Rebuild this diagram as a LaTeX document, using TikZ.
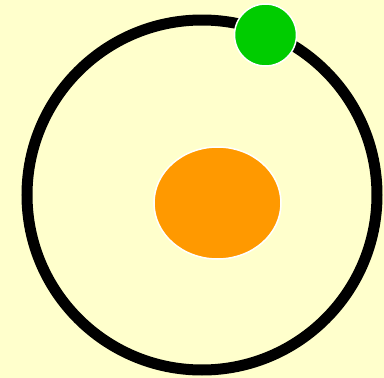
\documentclass[tikz,border=0pt]{standalone}
\usepackage{xcolor}
\usepackage{tikz}
\usetikzlibrary{shapes.geometric}
\definecolor{bgyellow}{HTML}{FFFFCC}
\definecolor{planetgreen}{HTML}{00CC00}
\definecolor{sunorange}{HTML}{FF9900}

\begin{document}
\begin{tikzpicture}[
   x=1pt, y=-1pt,
   orbit/.style={draw=black, line width=11pt, circle, inner sep=0pt,
                 minimum size=350pt},
   sun/.style={draw=white, line width=1.5pt, fill=sunorange, ellipse,
               inner sep=0pt, minimum width=127pt, minimum height=112pt},
   planet/.style={draw=white, line width=1.5pt, fill=planetgreen, circle,
                  inner sep=0pt, minimum size=62pt}]

  \fill[bgyellow] (0,0) rectangle (384,378);
  \useasboundingbox (0,0) rectangle (384,378);

  \node[orbit] (path) at (202,195) {};
  \node[sun] (star) at (217.5,203) {};
  \node[planet] (earth) at (265.5,35) {};
\end{tikzpicture}
\end{document}
